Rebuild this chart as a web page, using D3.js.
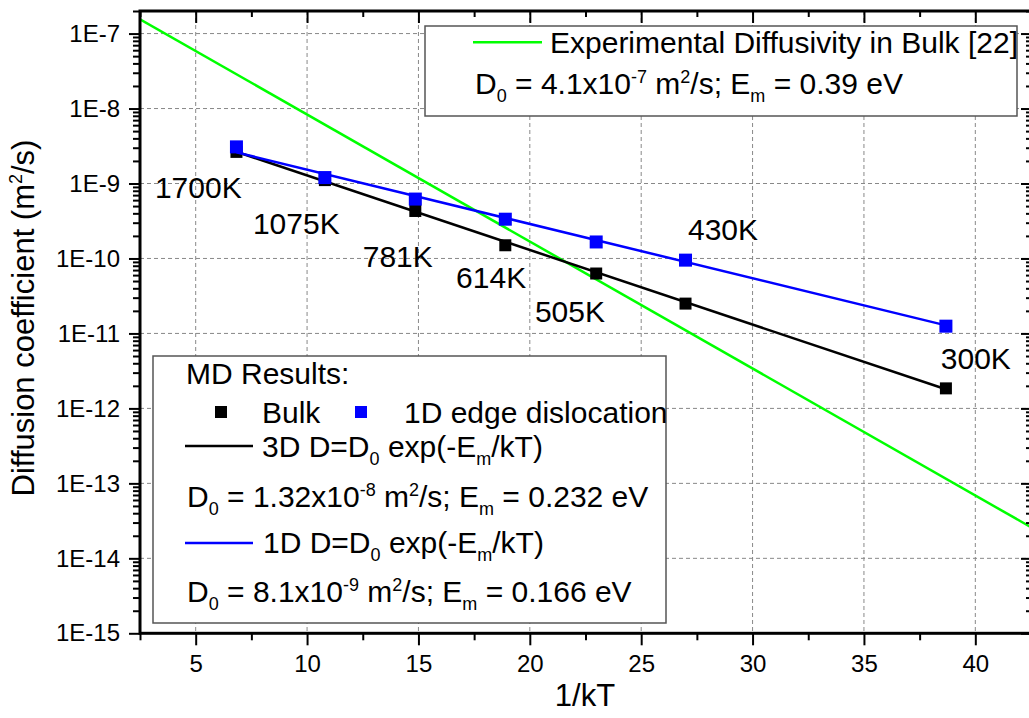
<!DOCTYPE html>
<html>
<head>
<meta charset="utf-8">
<script src="https://cdn.jsdelivr.net/npm/d3@7"></script>
<style>
  body { margin: 0; background: #fff; }
  svg { display: block; font-family: "Liberation Sans", Arial, sans-serif; }
</style>
</head>
<body>
<svg id="chart" width="1029" height="718"></svg>
<script>
// 1/kT values of the MD runs, and the temperatures they belong to
var invKT = [6.83, 10.80, 14.86, 18.90, 22.98, 26.99, 38.68];
var temps = ["1700K", "1075K", "781K", "614K", "505K", "430K", "300K"];
var bulkD = [2.64e-9, 1.11e-9, 4.3e-10, 1.5e-10, 6.3e-11, 2.5e-11, 1.85e-12];
var dislD = [3.08e-9, 1.2e-9, 6.2e-10, 3.34e-10, 1.66e-10, 9.5e-11, 1.25e-11];

// fitted / experimental lines (ends)
var bulkFitX = [6.83, 38.68], bulkFitD = [2.65e-9, 1.8e-12];
var dislFitX = [6.83, 38.68], dislFitD = [2.6e-9, 1.28e-11];
var expX = [2.5, 42.5], expD = [1.55e-7, 2.6e-14];

// where the temperature labels sit, in data units
var labelX = [3.17, 7.57, 12.5, 16.69, 20.23, 27.1, 38.45];
var labelD = [6.35e-10, 2.1e-10, 7.7e-11, 4.0e-11, 1.41e-11, 1.75e-10, 3.4e-12];

var xTicks = [5, 10, 15, 20, 25, 30, 35, 40];
var xMinor = [2.5, 7.5, 12.5, 17.5, 22.5, 27.5, 32.5, 37.5, 42.5];
var yTicks = [1e-15, 1e-14, 1e-13, 1e-12, 1e-11, 1e-10, 1e-9, 1e-8, 1e-7];

var svg = d3.select("#chart");
var pLeft = 140, pRight = 1031, pTop = 11, pBottom = 633.3;

var x = d3.scaleLinear().domain([2.5, 42.5]).range([pLeft, pRight]);
var y = d3.scaleLog().domain([1e-15, 2e-7]).range([pBottom, pTop]);

var yMinor = [];
yTicks.forEach(function (t) {
  for (var k = 2; k <= 9; k++) { if (t * k <= 2e-7) yMinor.push(t * k); }
});

svg.append("defs").append("clipPath").attr("id", "plot")
  .append("rect").attr("x", pLeft).attr("y", pTop)
  .attr("width", pRight - pLeft).attr("height", pBottom - pTop);

// grid
var grid = svg.append("g").attr("stroke", "#888").attr("stroke-width", 1)
  .attr("stroke-dasharray", "4,3");
grid.selectAll(".gx").data(xTicks).enter().append("line")
  .attr("x1", function (d) { return x(d); }).attr("x2", function (d) { return x(d); })
  .attr("y1", pTop).attr("y2", pBottom);
grid.selectAll(".gy").data(yTicks.slice(1)).enter().append("line")
  .attr("y1", function (d) { return y(d); }).attr("y2", function (d) { return y(d); })
  .attr("x1", pLeft).attr("x2", pRight);

// lines
var plot = svg.append("g").attr("clip-path", "url(#plot)");
var line = d3.line().x(function (d) { return x(d[0]); }).y(function (d) { return y(d[1]); });

plot.append("path").datum(d3.zip(expX, expD)).attr("d", line)
  .attr("fill", "none").attr("stroke", "#00ff00").attr("stroke-width", 2.5);
plot.append("path").datum(d3.zip(bulkFitX, bulkFitD)).attr("d", line)
  .attr("fill", "none").attr("stroke", "#000").attr("stroke-width", 2.5);
plot.selectAll(".bk").data(d3.zip(invKT, bulkD)).enter().append("rect")
  .attr("x", function (d) { return x(d[0]) - 6; }).attr("y", function (d) { return y(d[1]) - 6; })
  .attr("width", 12).attr("height", 12).attr("fill", "#000");
plot.append("path").datum(d3.zip(dislFitX, dislFitD)).attr("d", line)
  .attr("fill", "none").attr("stroke", "#0000ff").attr("stroke-width", 2.5);
plot.selectAll(".bl").data(d3.zip(invKT, dislD)).enter().append("rect")
  .attr("x", function (d) { return x(d[0]) - 6.5; }).attr("y", function (d) { return y(d[1]) - 6.5; })
  .attr("width", 13).attr("height", 13).attr("fill", "#0000ff");

// temperature labels
svg.selectAll(".tl").data(temps).enter().append("text")
  .attr("x", function (d, i) { return x(labelX[i]); })
  .attr("y", function (d, i) { return y(labelD[i]); })
  .attr("font-size", 30).text(function (d) { return d; });

// axes
var fmtE = function (d) { return "1E" + Math.round(Math.log10(d)); };
var ax = svg.append("g");
ax.append("g").attr("transform", "translate(" + pLeft + ",0)")
  .call(d3.axisLeft(y).tickValues(yTicks).tickFormat(fmtE).tickSize(11).tickPadding(9));
ax.append("g").attr("transform", "translate(" + pLeft + ",0)")
  .call(d3.axisLeft(y).tickValues(yMinor).tickFormat("").tickSize(7));
ax.append("g").attr("transform", "translate(" + pRight + ",0)")
  .call(d3.axisLeft(y).tickValues(yTicks).tickFormat("").tickSize(10));
ax.append("g").attr("transform", "translate(" + pRight + ",0)")
  .call(d3.axisLeft(y).tickValues(yMinor).tickFormat("").tickSize(5));
ax.append("g").attr("transform", "translate(0," + pBottom + ")")
  .call(d3.axisBottom(x).tickValues(xTicks).tickFormat(d3.format("d")).tickSize(12).tickPadding(10));
ax.append("g").attr("transform", "translate(0," + pBottom + ")")
  .call(d3.axisBottom(x).tickValues(xMinor).tickFormat("").tickSize(7));
ax.append("g").attr("transform", "translate(0," + pTop + ")")
  .call(d3.axisBottom(x).tickValues(xTicks).tickFormat("").tickSize(12));
ax.append("g").attr("transform", "translate(0," + pTop + ")")
  .call(d3.axisBottom(x).tickValues(xMinor).tickFormat("").tickSize(6));
ax.selectAll(".domain").remove();
ax.selectAll(".tick line").attr("stroke", "#000").attr("stroke-width", 2);
ax.selectAll(".tick text").attr("font-size", 24).attr("fill", "#000")
  .attr("font-family", "Liberation Sans, Arial, sans-serif");

svg.append("rect").attr("x", pLeft).attr("y", pTop)
  .attr("width", pRight - pLeft).attr("height", pBottom - pTop)
  .attr("fill", "none").attr("stroke", "#000").attr("stroke-width", 3);

// axis titles
svg.append("text").attr("x", 585).attr("y", 706).attr("text-anchor", "middle")
  .attr("font-size", 31).text("1/kT");
var yt = svg.append("text").attr("transform", "translate(34,318) rotate(-90)")
  .attr("text-anchor", "middle").attr("font-size", 31);
yt.append("tspan").text("Diffusion coefficient (m");
yt.append("tspan").attr("font-size", 18).attr("dy", -12).text("2");
yt.append("tspan").attr("dy", 12).text("/s)");

// rich text helper: parts are [text, "n"|"sup"|"sub"]
function rich(g, px, py, parts, size) {
  var t = g.append("text").attr("x", px).attr("y", py).attr("font-size", size);
  var shift = 0;
  parts.forEach(function (p) {
    var target = p[1] === "sup" ? -11 : p[1] === "sub" ? 8 : 0;
    t.append("tspan").attr("dy", target - shift)
      .attr("font-size", p[1] === "n" ? size : 18).text(p[0]);
    shift = target;
  });
  return t;
}

// top legend
var lg1 = svg.append("g");
lg1.append("rect").attr("x", 425).attr("y", 26).attr("width", 592).attr("height", 90)
  .attr("fill", "#fff").attr("stroke", "#555").attr("stroke-width", 1.5);
lg1.append("line").attr("x1", 473).attr("x2", 542).attr("y1", 42.3).attr("y2", 42.3)
  .attr("stroke", "#00ff00").attr("stroke-width", 2.5);
lg1.append("text").attr("x", 550).attr("y", 52.7).attr("font-size", 30)
  .text("Experimental Diffusivity in Bulk [22]");
rich(lg1, 475, 94, [["D", "n"], ["0", "sub"], [" = 4.1x10", "n"], ["-7", "sup"], [" m", "n"],
  ["2", "sup"], ["/s; E", "n"], ["m", "sub"], [" = 0.39 eV", "n"]], 30);

// bottom legend
var lg2 = svg.append("g");
lg2.append("rect").attr("x", 153).attr("y", 356).attr("width", 513).attr("height", 267)
  .attr("fill", "#fff").attr("stroke", "#555").attr("stroke-width", 1.5);
lg2.append("text").attr("x", 186).attr("y", 384).attr("font-size", 30).text("MD Results:");
lg2.append("rect").attr("x", 215).attr("y", 406).attr("width", 12).attr("height", 12).attr("fill", "#000");
lg2.append("text").attr("x", 262).attr("y", 423).attr("font-size", 30).text("Bulk");
lg2.append("rect").attr("x", 355).attr("y", 406).attr("width", 12).attr("height", 12).attr("fill", "#0000ff");
lg2.append("text").attr("x", 404).attr("y", 423).attr("font-size", 30).text("1D edge dislocation");
lg2.append("line").attr("x1", 185).attr("x2", 253).attr("y1", 446).attr("y2", 446)
  .attr("stroke", "#000").attr("stroke-width", 2.5);
rich(lg2, 262, 457, [["3D D=D", "n"], ["0", "sub"], [" exp(-E", "n"], ["m", "sub"], ["/kT)", "n"]], 30);
rich(lg2, 187, 507, [["D", "n"], ["0", "sub"], [" = 1.32x10", "n"], ["-8", "sup"], [" m", "n"],
  ["2", "sup"], ["/s; E", "n"], ["m", "sub"], [" = 0.232 eV", "n"]], 30);
lg2.append("line").attr("x1", 185).attr("x2", 253).attr("y1", 543).attr("y2", 543)
  .attr("stroke", "#0000ff").attr("stroke-width", 2.5);
rich(lg2, 263, 553, [["1D D=D", "n"], ["0", "sub"], [" exp(-E", "n"], ["m", "sub"], ["/kT)", "n"]], 30);
rich(lg2, 187, 602, [["D", "n"], ["0", "sub"], [" = 8.1x10", "n"], ["-9", "sup"], [" m", "n"],
  ["2", "sup"], ["/s; E", "n"], ["m", "sub"], [" = 0.166 eV", "n"]], 30);
</script>
</body>
</html>
